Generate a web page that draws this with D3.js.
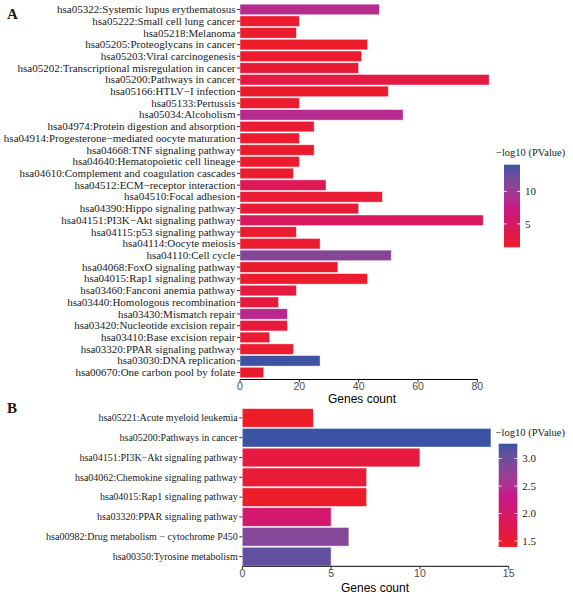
<!DOCTYPE html>
<html><head><meta charset="utf-8">
<script src="https://cdn.jsdelivr.net/npm/d3@7"></script>
<style>body{margin:0;background:#fff}svg{display:block}</style>
</head><body>
<script>
// ---------- Panel A data ----------
const termsA = [
 "hsa05322:Systemic lupus erythematosus","hsa05222:Small cell lung cancer","hsa05218:Melanoma",
 "hsa05205:Proteoglycans in cancer","hsa05203:Viral carcinogenesis","hsa05202:Transcriptional misregulation in cancer",
 "hsa05200:Pathways in cancer","hsa05166:HTLV\u2212I infection","hsa05133:Pertussis","hsa05034:Alcoholism",
 "hsa04974:Protein digestion and absorption","hsa04914:Progesterone\u2212mediated oocyte maturation",
 "hsa04668:TNF signaling pathway","hsa04640:Hematopoietic cell lineage","hsa04610:Complement and coagulation cascades",
 "hsa04512:ECM\u2212receptor interaction","hsa04510:Focal adhesion","hsa04390:Hippo signaling pathway",
 "hsa04151:PI3K\u2212Akt signaling pathway","hsa04115:p53 signaling pathway","hsa04114:Oocyte meiosis",
 "hsa04110:Cell cycle","hsa04068:FoxO signaling pathway","hsa04015:Rap1 signaling pathway",
 "hsa03460:Fanconi anemia pathway","hsa03440:Homologous recombination","hsa03430:Mismatch repair",
 "hsa03420:Nucleotide excision repair","hsa03410:Base excision repair","hsa03320:PPAR signaling pathway",
 "hsa03030:DNA replication","hsa00670:One carbon pool by folate"];
const countsA = [47,20,19,43,41,40,84,50,20,55,25,20,25,20,18,29,48,40,82,19,27,51,33,43,19,13,16,16,10,18,27,8];
const logPA   = [8.6,1.8,1.9,1.7,1.8,2.4,3.2,1.9,1.8,8.6,2.3,1.8,1.9,1.8,1.9,4.3,2.2,2.4,4.8,2.0,2.0,11.2,1.9,1.8,2.9,2.9,8.4,2.6,2.1,2.0,14.0,1.9];
const ticksA = [0,20,40,60,80];
const legendTicksA = [5,10];

// ---------- Panel B data ----------
const termsB = ["hsa05221:Acute myeloid leukemia","hsa05200:Pathways in cancer","hsa04151:PI3K\u2212Akt signaling pathway",
 "hsa04062:Chemokine signaling pathway","hsa04015:Rap1 signaling pathway","hsa03320:PPAR signaling pathway",
 "hsa00982:Drug metabolism \u2212 cytochrome P450","hsa00350:Tyrosine metabolism"];
const countsB = [4,14,10,7,7,5,6,5];
const logPB   = [1.42,3.27,1.6,1.55,1.42,2.05,2.85,3.08];
const ticksB = [0,5,10,15];
const legendTicksB = [1.5,2.0,2.5,3.0];

const W=573,H=600;
const svg=d3.select("body").append("svg").attr("width",W).attr("height",H);
const serif="'Liberation Serif','Times New Roman',serif";
const sans="'Liberation Sans',Arial,sans-serif";

function colorScale(dom){
  const t=d3.scaleLinear().domain(dom).range([0,1]).clamp(true);
  const c=d3.scaleLinear().domain([0,0.5,1]).range(["#ee1c25","#c4198b","#3a53a4"]).interpolate(d3.interpolateLab);
  return v=>c(t(v));
}

function panel(o){
  const g=svg.append("g");
  const x=d3.scaleLinear().domain(o.xdom).range(o.xr);
  const y=d3.scaleBand().domain(o.terms).range(o.yr).paddingInner(o.pin).paddingOuter(o.pout);
  const col=colorScale(o.cdom);
  const data=o.terms.map((t,i)=>({t,c:o.counts[i],p:o.logP[i]}));
  g.selectAll("rect.bar").data(data).join("rect").attr("class","bar")
   .attr("x",x(0)).attr("y",d=>y(d.t)).attr("width",d=>x(d.c)-x(0)).attr("height",y.bandwidth())
   .attr("fill",d=>col(d.p)).attr("stroke","#ffffff").attr("stroke-opacity",0.55).attr("stroke-width",0.8);
  const yl=g.append("g");
  o.terms.forEach(t=>{
    const cy=y(t)+y.bandwidth()/2;
    yl.append("line").attr("x1",x(0)-3).attr("x2",x(0)).attr("y1",cy).attr("y2",cy).attr("stroke","#333").attr("stroke-width",1);
    yl.append("text").attr("x",x(0)-4.5).attr("y",cy).attr("dy","0.33em").attr("text-anchor","end")
      .attr("font-family",serif).attr("font-size",o.lfs).attr("fill","#1a1a1a").text(t);
  });
  const ay=o.axisY;
  g.append("line").attr("x1",x(0)).attr("x2",o.axEnd).attr("y1",ay).attr("y2",ay).attr("stroke","#000").attr("stroke-width",1);
  o.ticks.forEach(v=>{
    g.append("line").attr("x1",x(v)).attr("x2",x(v)).attr("y1",ay).attr("y2",ay+3).attr("stroke","#333");
    g.append("text").attr("x",x(v)).attr("y",ay+o.tickDy).attr("text-anchor","middle").attr("font-family",sans)
     .attr("font-size",10.5).attr("fill","#4d4d4d").text(v);
  });
  g.append("text").attr("x",o.titleX).attr("y",ay+o.titleDy).attr("text-anchor","middle").attr("font-family",sans)
   .attr("font-size",12).attr("fill","#000").text("Genes count");
  const lg=o.leg;
  const defs=svg.append("defs");
  const gid="grad"+o.id;
  const grad=defs.append("linearGradient").attr("id",gid).attr("x1",0).attr("x2",0).attr("y1",1).attr("y2",0);
  d3.range(0,1.0001,0.05).forEach(f=>{
    const v=o.cdom[0]+f*(o.cdom[1]-o.cdom[0]);
    grad.append("stop").attr("offset",f).attr("stop-color",col(v));
  });
  g.append("rect").attr("x",lg.x).attr("y",lg.y0).attr("width",lg.w).attr("height",lg.y1-lg.y0).attr("fill",`url(#${gid})`);
  const ly=d3.scaleLinear().domain(o.cdom).range([lg.y1,lg.y0]);
  o.lticks.forEach(v=>{
    const yy=ly(v);
    g.append("line").attr("x1",lg.x).attr("x2",lg.x+3).attr("y1",yy).attr("y2",yy).attr("stroke","#fff").attr("stroke-opacity",0.8);
    g.append("line").attr("x1",lg.x+lg.w-3).attr("x2",lg.x+lg.w).attr("y1",yy).attr("y2",yy).attr("stroke","#fff").attr("stroke-opacity",0.8);
    g.append("text").attr("x",lg.x+lg.w+5).attr("y",yy).attr("dy","0.35em").attr("font-family",serif)
     .attr("font-size",11).attr("fill","#1a1a1a").text(o.lfmt(v));
  });
  g.append("text").attr("x",lg.tx).attr("y",lg.ty).attr("font-family",serif).attr("font-size",10.5).attr("fill","#1a1a1a")
   .text("\u2212log10 (PValue)");
  g.append("text").attr("x",o.letter[0]).attr("y",o.letter[1]).attr("font-family",serif).attr("font-weight","bold")
   .attr("font-size",15).attr("fill","#1a1a1a").text(o.letterT);
}

panel({id:"A",terms:termsA,counts:countsA,logP:logPA,xdom:[0,80],xr:[240,477.3],yr:[3.6,378.4],pin:0.1,pout:0.05,
  cdom:[1.4,14.1],lfs:11,axisY:379.5,axEnd:478,ticks:ticksA,tickDy:10,titleX:362,titleDy:23,
  leg:{x:504,w:16,y0:164.7,y1:247.3,tx:496,ty:156},lticks:legendTicksA,lfmt:d=>d,letter:[7,19],letterT:"A"});
panel({id:"B",terms:termsB,counts:countsB,logP:logPB,xdom:[0,15],xr:[242.3,508.7],yr:[408,566.5],pin:0.06,pout:0.03,
  cdom:[1.39,3.27],lfs:10,axisY:566.3,axEnd:508.7,ticks:ticksB,tickDy:10.5,titleX:375,titleDy:25.5,
  leg:{x:498.7,w:18.6,y0:443.7,y1:547,tx:495.7,ty:436},lticks:legendTicksB,lfmt:d3.format(".1f"),letter:[7,413],letterT:"B"});
</script>
</body></html>
